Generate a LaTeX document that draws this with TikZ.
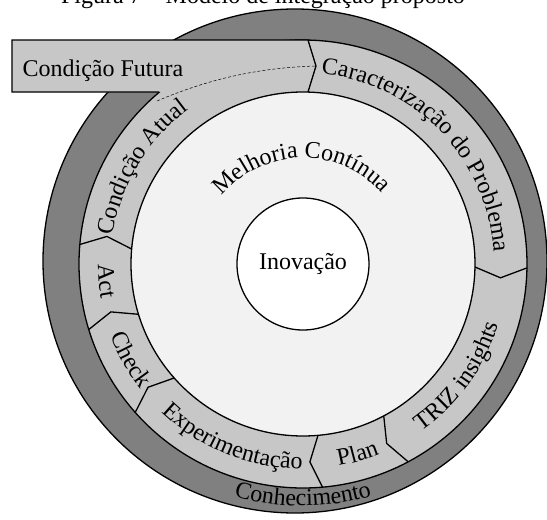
\documentclass[tikz,border=0pt]{standalone}
\usepackage{fontspec}
\setmainfont{Liberation Serif}
\usetikzlibrary{decorations.text}

\definecolor{ringdark}{gray}{0.5}
\definecolor{ringlight}{gray}{0.78}
\definecolor{innerarea}{gray}{0.95}
\newcommand{\arcfont}{\fontsize{24}{28}\selectfont}

\begin{document}
\begin{tikzpicture}[
        x=1pt, y=1pt,
        line width=1.3pt,
        txt/.style={
          font=\arcfont,
          inner sep=0pt
        },
        arclabel/.style={
          decorate,
          decoration={text along path, text align=center, text={|\arcfont|#1}}
        },
        chevron/.style={
          draw=black,
          line join=miter
        }
      ]
        \useasboundingbox (-303,-256) rectangle (244,264);
        \node[txt, anchor=base] (title) at (-40,260) {Figura 7 – Modelo de integração proposto};

        \draw[fill=ringdark] (-8,3) circle (252pt);
        \draw[fill=ringlight] (0,0) circle (224pt);
        \fill[ringlight] (-291,224) -- (5,224) -- (13,198) -- (5,172) -- (-291,172) -- cycle;
        \draw[fill=innerarea] (0,0) circle (172pt);
        \node[txt, circle, draw, fill=white, minimum size=132pt] (inovacao) at (0,0) {Inovação};

        \foreach \a in {-1,-62,-85,-138.5,-163,175}
          \draw[chevron] (\a:224) -- ({\a-3}:198) -- (\a:172);

        \coordinate (fut) at (-143.5,172);
        \coordinate (tip) at (13,198);
        \draw[chevron] (fut) -- (-291,172) -- (-291,224) -- (5,224) -- (tip) -- (5,172);
        \node[txt, anchor=base west] (futura) at (-281,188) {Condição Futura};
        \coordinate (atual) at (-146,163);
        \draw[densely dashed, line width=0.5pt] (atual) .. controls (-108,179) and (-58,196) .. (tip);

        \path[arclabel=Melhoria Contínua] (171:106pt) arc[start angle=171, end angle=11, radius=106pt];
        \path[arclabel=Caracterização do Problema] (96:191pt) arc[start angle=96, end angle=-8, radius=191pt];
        \path[arclabel=Condição Atual] (184:192pt) arc[start angle=184, end angle=114, radius=192pt];
        \path[arclabel=TRIZ insights] (-66:205pt) arc[start angle=-66, end angle=-6, radius=205pt];
        \path[arclabel=Plan] (-89:205pt) arc[start angle=-89, end angle=-59, radius=205pt];
        \path[arclabel=Experimentação] (-142:205pt) arc[start angle=-142, end angle=-82, radius=205pt];
        \path[arclabel=Check] (-171:205pt) arc[start angle=-171, end angle=-131, radius=205pt];
        \path[arclabel=Act] (165:205pt) arc[start angle=165, end angle=205, radius=205pt];
        \path[arclabel=Conhecimento] (-120:242pt) arc[start angle=-120, end angle=-60, radius=242pt];
      \end{tikzpicture}
\end{document}
